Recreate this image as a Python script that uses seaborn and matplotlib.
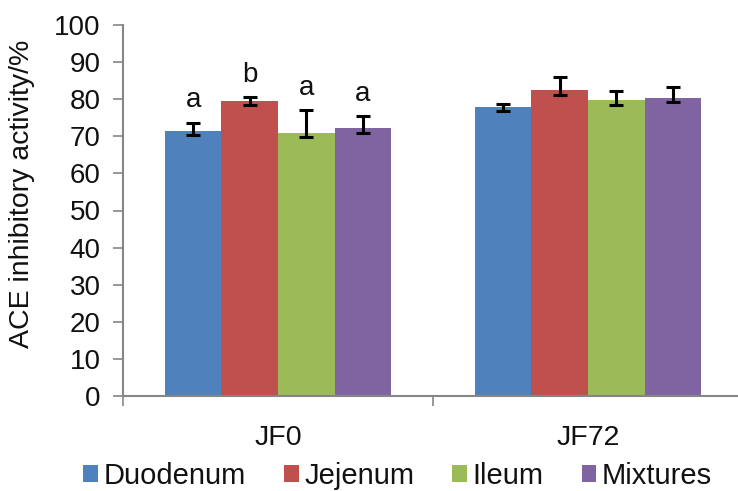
import matplotlib
matplotlib.use('Agg')
import matplotlib.pyplot as plt
import numpy as np
import pandas as pd
import seaborn as sns

groups = ['JF0', 'JF72']
tissues = ['Duodenum', 'Jejenum', 'Ileum', 'Mixtures']
jf0_mean = [71.5, 79.5, 71.0, 72.3]
jf72_mean = [77.8, 82.5, 79.8, 80.2]
jf0_err_lo = [1.2, 1.0, 1.3, 1.4]
jf0_err_hi = [2.2, 1.0, 6.1, 3.2]
jf72_err_lo = [0.9, 1.3, 1.3, 0.9]
jf72_err_hi = [0.9, 3.5, 2.3, 3.0]
letters = ['a', 'b', 'a', 'a']

colors = ['#4F81BD', '#C0504D', '#9BBB59', '#8064A2']

df = pd.DataFrame({
    'group': np.repeat(groups, len(tissues)),
    'tissue': tissues * len(groups),
    'value': jf0_mean + jf72_mean,
    'lo': jf0_err_lo + jf72_err_lo,
    'hi': jf0_err_hi + jf72_err_hi,
})

sns.set_style('white')
plt.rcParams['font.family'] = ['Liberation Sans', 'DejaVu Sans']
plt.rcParams['text.color'] = '#111111'
plt.rcParams['axes.labelcolor'] = '#111111'
plt.rcParams['xtick.labelcolor'] = '#111111'
plt.rcParams['ytick.labelcolor'] = '#111111'

fig = plt.figure(figsize=(7.38, 4.91), dpi=100)
ax = fig.add_axes([123 / 738, 1 - 396 / 491, 620 / 738, (396 - 25) / 491])

sns.barplot(data=df, x='group', y='value', hue='tissue', hue_order=tissues,
            palette=colors, width=0.73, errorbar=None, saturation=1,
            edgecolor='none', ax=ax)

# error bars from the drawn bars
for j, t in enumerate(tissues):
    cont = ax.containers[j]
    sub = df[df['tissue'] == t]
    xs = [p.get_x() + p.get_width() / 2 for p in cont.patches]
    ax.errorbar(xs, sub['value'], yerr=[sub['lo'], sub['hi']], fmt='none',
                ecolor='black', elinewidth=2.2, capsize=5, capthick=2.2, zorder=5)
    # letters over JF0
    p = cont.patches[0]
    top = sub['value'].iloc[0] + sub['hi'].iloc[0]
    ax.text(p.get_x() + p.get_width() / 2, top + 2.5, letters[j],
            ha='center', va='bottom', fontsize=20)

ax.set_ylim(0, 100)
ax.set_yticks(range(0, 101, 10))
ax.set_xlim(-0.5, 1.5)
ax.set_ylabel('ACE inhibitory activity/%', fontsize=20.5)
ax.yaxis.set_label_coords(-0.142, 0.545)
ax.set_xlabel('')

ax.tick_params(axis='y', which='major', direction='out', length=7, width=1.2,
               color='#868686', labelsize=20, pad=9, left=True)
ax.tick_params(axis='x', which='major', length=0, labelsize=20.5, pad=21)
ax.set_xticks([-0.5, 0.5, 1.5], minor=True)
ax.tick_params(axis='x', which='minor', direction='out', length=7, width=1.2,
               color='#868686', bottom=True)

for s in ['top', 'right']:
    ax.spines[s].set_visible(False)
for s in ['left', 'bottom']:
    ax.spines[s].set_color('#868686')
    ax.spines[s].set_linewidth(1.5)

handles, labels = ax.get_legend_handles_labels()
ax.legend_.remove()
fig.legend(handles, labels, loc='center', bbox_to_anchor=(0.539, 1 - 476 / 491),
           ncol=4, frameon=False, fontsize=21, handlelength=0.5,
           handleheight=0.5, handletextpad=0.2, columnspacing=1.3,
           borderaxespad=0, borderpad=0)

fig.savefig('out.png', dpi=100)
